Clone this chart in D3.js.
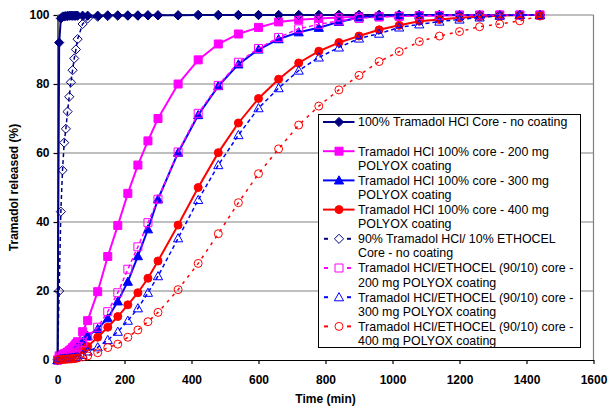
<!DOCTYPE html>
<html>
<head>
<meta charset="utf-8">
<script src="https://cdn.jsdelivr.net/npm/d3@7"></script>
<style>
  html, body { margin: 0; padding: 0; background: #fff; }
  svg { display: block; }
  text { font-family: "Liberation Sans", Arial, sans-serif; }
</style>
</head>
<body>
<svg id="chart" width="608" height="406"></svg>
<script>
// ---------------- DATA ----------------
const times = [0,5,10,15,20,25,30,35,40,45,50,55,60,75,90,120,150,180,210,240,270,300,
  360,420,480,540,600,660,720,780,840,900,960,1020,1080,1140,1200,1260,1320,1380,1440];

const core100 = [0,92,99,99.5,99.6,99.7,99.7,99.8,99.8,99.8,99.8,99.8,99.8,99.8,99.8,99.8,99.9,99.9,99.9,99.9,99.9,99.9,
  99.9,100,100,100,100,100,100,100,100,100,100,100,100,100,100,100,100,100,100];
const poly200 = [0,1.2,1.4,1.6,1.8,2.0,2.3,2.7,3.1,3.6,4.1,4.7,5.3,8.2,11.4,19.8,30,39,48.3,56.5,63.5,70,
  80,87,91.6,94.5,96.4,98,98.6,99,99.3,99.5,99.6,99.7,99.8,99.8,99.9,99.9,100,100,100];
const poly300 = [0,0.3,0.4,0.6,0.8,1.0,1.2,1.5,1.9,2.3,2.8,3.3,3.9,5.3,7.0,9.0,12.1,17.0,22.7,30.1,37.9,46.6,
  60.1,71,79.4,85.7,90,93,95,96.3,98,99.3,99.7,100,100,100,100,100,100,100,100];
const poly400 = [0,0.8,1.0,1.1,1.2,1.3,1.4,1.5,1.6,1.7,1.9,2.1,2.3,3.0,3.9,6.6,9.5,12.6,16,19.5,23.7,28.7,
  39.1,50,60.1,68.7,75.8,81.4,86.1,89.5,92,93.9,95.7,97,98.2,98.7,99.2,99.5,99.8,100,100];
const eth0 = [0,20,43,55,63,67,72,76.3,80.5,84,87.4,90,93,97.4,99,99.5,99.7,99.8,99.8,99.8,99.9,99.9,
  99.9,100,100,100,100,100,100,100,100,100,100,100,100,100,100,100,100,100,100];
const eth200 = [0,0.5,0.8,1.0,1.2,1.4,1.6,1.9,2.2,2.6,3.0,3.4,3.9,5.0,6.8,9.5,14,19.5,26.3,32.8,39.8,46.6,
  60.3,71.5,79.6,86.3,90.3,93.5,96,97.3,98.3,99,99.4,99.6,99.8,99.9,100,100,100,100,100];
const eth300 = [0,0.2,0.3,0.3,0.4,0.4,0.5,0.5,0.6,0.6,0.7,0.8,0.9,1.5,2.5,3.7,5.8,8.2,11.4,15,19.5,24.3,
  35.3,46.4,56.5,65.2,73,78.8,83.9,87.7,90.6,93.2,94.6,96.4,97.3,98.1,98.7,99.3,99.8,100,100];
const eth400 = [0,0.1,0.1,0.2,0.2,0.2,0.3,0.3,0.3,0.4,0.4,0.5,0.6,0.9,1.2,2.1,3.6,4.6,6.6,8.7,11.1,13.8,
  20.4,28,36.6,45.6,54,61.2,68.1,73.6,78.3,82.5,86.5,89.4,92.3,93.9,95.2,96.6,97.4,98.3,99.7];

const legendLabels = [
  ["100% Tramadol HCl Core - no coating", ""],
  ["Tramadol HCl 100% core - 200 mg", "POLYOX coating"],
  ["Tramadol HCl 100% core - 300 mg", "POLYOX coating"],
  ["Tramadol HCl 100% core - 400 mg", "POLYOX coating"],
  ["90% Tramadol HCl/ 10% ETHOCEL", "Core - no coating"],
  ["Tramadol HCl/ETHOCEL (90/10) core -", "200 mg POLYOX coating"],
  ["Tramadol HCl/ETHOCEL (90/10) core -", "300 mg POLYOX coating"],
  ["Tramadol HCl/ETHOCEL (90/10) core -", "400 mg POLYOX coating"]
];
const xTicks = [0,200,400,600,800,1000,1200,1400,1600];
const yTicks = [0,20,40,60,80,100];
const xTitle = "Time (min)";
const yTitle = "Tramadol released (%)";

// ---------------- STYLE ----------------
const seriesValues = [core100, poly200, poly300, poly400, eth0, eth200, eth300, eth400];
const styles = [
  {color:"#000080", dash:null,  marker:"diamond",  filled:true},
  {color:"#FF00FF", dash:null,  marker:"square",   filled:true},
  {color:"#0000FF", dash:null,  marker:"triangle", filled:true},
  {color:"#FF0000", dash:null,  marker:"circle",   filled:true},
  {color:"#000080", dash:"4,3", marker:"diamond",  filled:false},
  {color:"#FF00FF", dash:"4,3", marker:"square",   filled:false},
  {color:"#0000FF", dash:"4,3", marker:"triangle", filled:false},
  {color:"#FF0000", dash:"3,5", marker:"circle",   filled:false}
];

function markerPath(type) {
  switch (type) {
    case "diamond": return "M0,-4.6L4.6,0L0,4.6L-4.6,0Z";
    case "square": return "M-4,-4H4V4H-4Z";
    case "triangle": return "M0,-4.6L4.6,3.6L-4.6,3.6Z";
    case "circle": return "M4,0A4,4 0 1,1 -4,0A4,4 0 1,1 4,0Z";
  }
}

const svg = d3.select("#chart");
const W = 608, H = 406;
const m = {left: 57.5, right: 14.5, top: 15, bottom: 46};
const x = d3.scaleLinear().domain([0, 1600]).range([m.left, W - m.right]);
const y = d3.scaleLinear().domain([0, 100]).range([H - m.bottom, m.top]);

svg.append("rect").attr("width", W).attr("height", H).attr("fill", "#fff");

// gridlines
svg.append("g").selectAll("line").data(yTicks.filter(d => d > 0)).join("line")
  .attr("x1", x(0)).attr("x2", x(1600))
  .attr("y1", d => y(d)).attr("y2", d => y(d))
  .attr("stroke", "#808080").attr("stroke-width", 1.2);
// plot border right
svg.append("line").attr("x1", x(1600)).attr("x2", x(1600)).attr("y1", y(100)).attr("y2", y(0))
  .attr("stroke", "#808080").attr("stroke-width", 1.2);

// axes
const xAxis = d3.axisBottom(x).tickValues(xTicks).tickSize(4).tickSizeOuter(0).tickPadding(11).tickFormat(d3.format("d"));
const yAxis = d3.axisLeft(y).tickValues(yTicks).tickSize(4).tickSizeOuter(0).tickPadding(4).tickFormat(d3.format("d"));

const gx = svg.append("g").attr("transform", `translate(0,${y(0)})`).call(xAxis);
const gy = svg.append("g").attr("transform", `translate(${x(0)},0)`).call(yAxis);
[gx, gy].forEach(g => {
  g.select(".domain").attr("stroke", "#000").attr("stroke-width", 1.2);
  g.selectAll(".tick line").attr("stroke", "#000").attr("stroke-width", 1.2);
  g.selectAll(".tick text").attr("font-family", "Liberation Sans, Arial, sans-serif")
    .attr("font-size", 12).attr("font-weight", "bold").attr("fill", "#000");
});

// axis titles
svg.append("text").attr("x", (x(0) + x(1600)) / 2).attr("y", 403)
  .attr("text-anchor", "middle").attr("font-size", 12).attr("font-weight", "bold").text(xTitle);
svg.append("text").attr("transform", `translate(17.5,${(y(0) + y(100)) / 2}) rotate(-90)`)
  .attr("text-anchor", "middle").attr("font-size", 12).attr("font-weight", "bold").text(yTitle);

// series
const line = d3.line().x(d => x(d[0])).y(d => y(d[1]));
seriesValues.forEach((vals, i) => {
  const st = styles[i];
  const pts = times.map((t, j) => [t, vals[j]]);
  const g = svg.append("g");
  g.append("path").datum(pts).attr("d", line)
    .attr("fill", "none").attr("stroke", st.color)
    .attr("stroke-width", st.dash ? 1.5 : 2)
    .attr("stroke-dasharray", st.dash);
  g.selectAll("path.mk").data(pts).join("path").attr("class", "mk")
    .attr("transform", d => `translate(${x(d[0])},${y(d[1])})`)
    .attr("d", markerPath(st.marker))
    .attr("fill", st.filled ? st.color : "none")
    .attr("stroke", st.color).attr("stroke-width", 1);
});

// legend
const lg = svg.append("g");
lg.append("rect").attr("x", 318.5).attr("y", 114.5).attr("width", 262).attr("height", 233)
  .attr("fill", "#fff").attr("stroke", "#000").attr("stroke-width", 1);
const ly0 = 122, lstep = 29.2, lineH = 14.2;
legendLabels.forEach((lab, i) => {
  const st = styles[i];
  const cy = ly0 + i * lstep;
  if (st.dash) {
    [[324, 328], [347, 351]].forEach(seg => {
      lg.append("line").attr("x1", seg[0]).attr("x2", seg[1]).attr("y1", cy).attr("y2", cy)
        .attr("stroke", st.color).attr("stroke-width", 2);
    });
  } else {
    lg.append("line").attr("x1", 323).attr("x2", 354.5).attr("y1", cy).attr("y2", cy)
      .attr("stroke", st.color).attr("stroke-width", 2);
  }
  lg.append("path").attr("transform", `translate(339,${cy})`).attr("d", markerPath(st.marker))
    .attr("fill", st.filled ? st.color : "none").attr("stroke", st.color).attr("stroke-width", 1);
  lab.forEach((t, k) => {
    if (!t) return;
    lg.append("text").attr("x", 358).attr("y", cy + 4.4 + k * lineH)
      .attr("font-size", 12.4).attr("fill", "#000").text(t);
  });
});
</script>
</body>
</html>
